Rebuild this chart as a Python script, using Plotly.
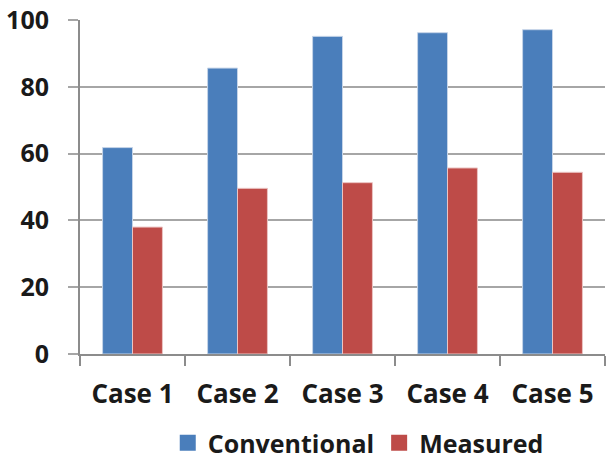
import plotly.graph_objects as go

categories = ["Case 1", "Case 2", "Case 3", "Case 4", "Case 5"]
conventional = [61.8, 85.6, 95.1, 96.2, 97.1]
measured = [38.0, 49.6, 51.3, 55.7, 54.4]
y_ticks = [0, 20, 40, 60, 80, 100]

FONT = "Open Sans"
BLUE = "#4A7EBB"
RED = "#BE4B48"

fig = go.Figure()
fig.add_trace(go.Bar(name="Conventional", x=categories, y=conventional, showlegend=False,
                     marker=dict(color=BLUE, line=dict(color="#C5D4E8", width=1))))
fig.add_trace(go.Bar(name="Measured", x=categories, y=measured, showlegend=False,
                     marker=dict(color=RED, line=dict(color="#EBC4C3", width=1))))
# legend entries with larger square swatches
fig.add_trace(go.Scatter(name="Conventional", x=[None], y=[None], mode="markers",
                         marker=dict(symbol="square", size=16, color=BLUE)))
fig.add_trace(go.Scatter(name="Measured", x=[None], y=[None], mode="markers",
                         marker=dict(symbol="square", size=16, color=RED)))

fig.update_layout(
    width=607, height=466,
    margin=dict(l=80, r=2, t=20, b=112),
    paper_bgcolor="white", plot_bgcolor="white",
    barmode="group", bargap=0.43, bargroupgap=0,
    font=dict(family=FONT, size=25, color="#1a1a1a"),
    legend=dict(orientation="h", x=0.53, xanchor="center",
                yref="container", y=-0.013, yanchor="bottom",
                font=dict(family=FONT, size=25, color="#1a1a1a", weight="bold"),
                itemwidth=30, traceorder="normal", tracegroupgap=0),
    showlegend=True,
)
fig.update_xaxes(
    showline=True, linecolor="#8C8C8C", linewidth=2,
    ticks="outside", tickson="boundaries", ticklen=10, tickcolor="#8C8C8C", tickwidth=2,
    tickfont=dict(family=FONT, size=26, color="#1a1a1a", weight="bold"),
    showgrid=False, automargin=False, ticklabelstandoff=16,
)
fig.update_yaxes(
    range=[0, 100], tickvals=y_ticks,
    showline=True, linecolor="#8C8C8C", linewidth=2,
    ticks="outside", ticklen=10, tickcolor="#A6A6A6", tickwidth=2,
    showgrid=True, gridcolor="#A6A6A6", gridwidth=2,
    zeroline=False, automargin=False,
    tickfont=dict(family=FONT, size=25, color="#1a1a1a", weight="bold"),
    ticklabelstandoff=14,
)

fig.write_html("out.html", config={"displayModeBar": False},
               post_script="document.body.style.margin='0';")
